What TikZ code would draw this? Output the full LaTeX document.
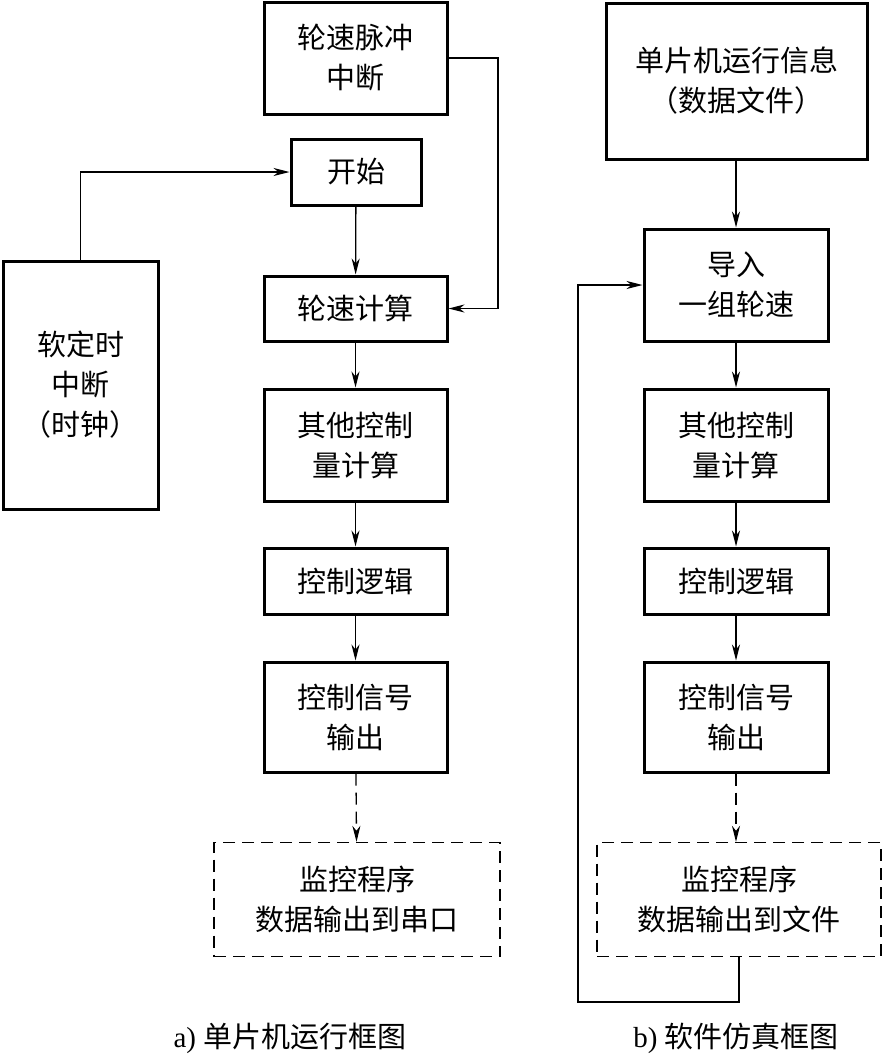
\documentclass[tikz,border=0pt]{standalone}
\usepackage{fontspec}
\setmainfont{Liberation Serif}
\newfontfamily\cjk{Noto Sans CJK SC}
\usetikzlibrary{arrows.meta}
\tikzset{
  blk/.style={draw, line width=3pt, align=center, inner sep=0pt,
    font=\cjk\fontsize{29}{40}\selectfont},
  dblk/.style={draw, line width=1.4pt, dash pattern=on 12pt off 7pt, align=center, inner sep=0pt,
    font=\cjk\fontsize{29}{40}\selectfont},
  arr/.style={line width=1.3pt, -{Stealth[length=16pt,width=8pt,inset=5pt]}},
  captxt/.style={font=\fontsize{29}{34}\selectfont, inner sep=0pt}
}
\begin{document}
\begin{tikzpicture}[x=1pt,y=-1pt]
\useasboundingbox (0,0) rectangle (884,1055);
% left column
\node[blk, minimum width=183pt, minimum height=112pt] (p1) at (355.5,58) {轮速脉冲\\中断};
\node[blk, minimum width=130pt, minimum height=66pt] (start) at (356,172) {开始};
\node[blk, minimum width=183pt, minimum height=65pt] (calc) at (355.5,308.5) {轮速计算};
\node[blk, minimum width=183pt, minimum height=112pt] (oth) at (355.5,445) {其他控制\\量计算};
\node[blk, minimum width=183pt, minimum height=66pt] (logic) at (355.5,581) {控制逻辑};
\node[blk, minimum width=183pt, minimum height=110pt] (sig) at (355.5,717) {控制信号\\输出};
\node[dblk, minimum width=286pt, minimum height=114pt] (mon) at (357,899.5) {监控程序\\数据输出到串口};
\node[blk, minimum width=155pt, minimum height=248pt] (timer) at (80.5,385) {软定时\\中断\\（时钟）};
\coordinate (c1) at (498,308.5);
\draw[arr] (p1.east) -| (c1) -- (calc.east);
\draw[arr] (timer.north) |- (start.west);
\draw[arr] (start) -- (calc);
\draw[arr] (calc) -- (oth);
\draw[arr] (oth) -- (logic);
\draw[arr] (logic) -- (sig);
\draw[arr, dash pattern=on 12pt off 7pt] (sig) -- (mon);
% right column
\node[blk, minimum width=261pt, minimum height=156pt] (info) at (736.5,81) {单片机运行信息\\（数据文件）};
\node[blk, minimum width=184pt, minimum height=112pt] (imp) at (736,285) {导入\\一组轮速};
\node[blk, minimum width=184pt, minimum height=112pt] (oth2) at (736,445) {其他控制\\量计算};
\node[blk, minimum width=184pt, minimum height=66pt] (logic2) at (736,581) {控制逻辑};
\node[blk, minimum width=184pt, minimum height=110pt] (sig2) at (736,717) {控制信号\\输出};
\node[dblk, minimum width=284pt, minimum height=114pt] (mon2) at (739,899.5) {监控程序\\数据输出到文件};
\draw[arr] (info.south -| imp.north) -- (imp.north);
\draw[arr] (imp) -- (oth2);
\draw[arr] (oth2) -- (logic2);
\draw[arr] (logic2) -- (sig2);
\draw[arr, dash pattern=on 12pt off 7pt] (sig2.south) -- (sig2.south |- mon2.north);
\coordinate (fb) at (578,1002);
\draw[arr] (mon2.south) |- (fb) |- (imp.west);
% captions
\node[captxt] (ca) at (290,1038) {a) {\cjk 单片机运行框图}};
\node[captxt] (cb) at (736,1038) {b) {\cjk 软件仿真框图}};
\end{tikzpicture}
\end{document}
